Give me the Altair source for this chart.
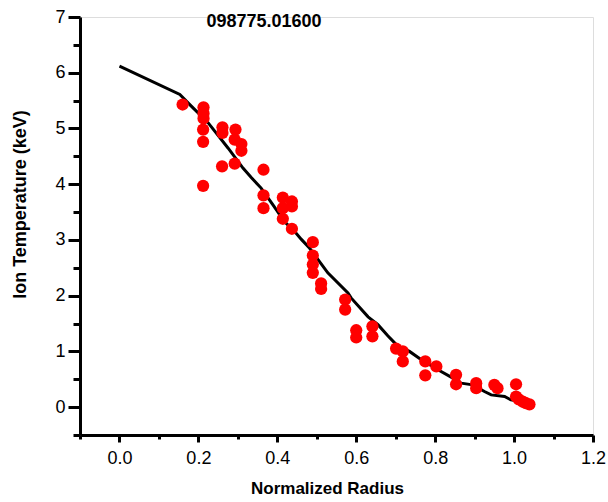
import altair as alt
import pandas as pd

TITLE = "098775.01600"

pt_x = [0.160, 0.213, 0.213, 0.213, 0.212, 0.212, 0.212, 0.261, 0.261, 0.294,
        0.292, 0.309, 0.309, 0.260, 0.292, 0.365, 0.365, 0.365, 0.414, 0.437,
        0.414, 0.437, 0.414, 0.437, 0.490, 0.490, 0.490, 0.490, 0.511, 0.511,
        0.572, 0.572, 0.600, 0.600, 0.641, 0.641, 0.701, 0.718, 0.718, 0.775,
        0.775, 0.803, 0.853, 0.853, 0.904, 0.904, 0.950, 0.958, 1.005, 1.005,
        1.012, 1.022, 1.030, 1.039]
pt_y = [5.43, 5.38, 5.27, 5.18, 4.98, 4.76, 3.97, 5.02, 4.92, 4.98,
        4.80, 4.72, 4.60, 4.32, 4.37, 4.26, 3.80, 3.57, 3.76, 3.69,
        3.57, 3.60, 3.38, 3.20, 2.96, 2.72, 2.56, 2.41, 2.22, 2.12,
        1.93, 1.75, 1.38, 1.25, 1.45, 1.27, 1.05, 1.00, 0.82, 0.82,
        0.57, 0.73, 0.58, 0.41, 0.43, 0.34, 0.40, 0.34, 0.41, 0.19,
        0.14, 0.10, 0.07, 0.05]

fit_x = [0.0, 0.153, 0.182, 0.225, 0.275, 0.313, 0.334, 0.359, 0.389, 0.418,
         0.444, 0.461, 0.482, 0.528, 0.579, 0.587, 0.630, 0.655, 0.680, 0.706,
         0.735, 0.765, 0.815, 0.845, 0.866, 0.895, 0.925, 0.942, 0.976, 0.992,
         1.018]
fit_y = [6.12, 5.61, 5.40, 5.10, 4.65, 4.29, 4.12, 3.93, 3.63, 3.33,
         3.15, 3.01, 2.85, 2.41, 2.05, 1.96, 1.62, 1.48, 1.28, 1.09,
         1.00, 0.85, 0.64, 0.52, 0.43, 0.40, 0.28, 0.22, 0.19, 0.13,
         0.10]

x_ticks = [round(-0.1 + 0.1 * i, 1) for i in range(14)]
y_ticks = [round(-0.5 + 0.5 * i, 1) for i in range(16)]

FONT = "Liberation Sans"

pts = pd.DataFrame({"r": pt_x, "t": pt_y})
fit = pd.DataFrame({"r": fit_x, "t": fit_y})

xscale = alt.Scale(domain=[-0.1, 1.2], nice=False, zero=False)
yscale = alt.Scale(domain=[-0.5, 7], nice=False, zero=False)

xaxis = alt.Axis(
    title="Normalized Radius", values=x_ticks, tickCount=100, grid=False,
    labelExpr="abs(round(datum.value*10)) % 2 == 0 && datum.value > -0.05 ? format(datum.value, '.1f') : ''",
    tickSize={"condition": {"test": "abs(round(datum.value*10)) % 2 == 0", "value": 7}, "value": 4},
    labelOverlap=False, labelFlush=False,
    tickWidth=3, tickColor="black", domainWidth=3, domainColor="black",
    labelFont=FONT, labelFontSize=18, labelColor="black", labelPadding=7,
    titleFont=FONT, titleFontSize=17, titleFontWeight="bold", titleColor="black",
    titleX=247, titleY=53, titleBaseline="middle", titleAnchor="middle", titleAlign="center",
)
yaxis = alt.Axis(
    title="Ion Temperature (keV)", values=y_ticks, tickCount=100, grid=False,
    labelExpr="abs(round(datum.value*2)) % 2 == 0 ? format(datum.value, 'd') : ''",
    tickSize={"condition": {"test": "abs(round(datum.value*2)) % 2 == 0", "value": 12}, "value": 7},
    labelOverlap=False, labelFlush=False,
    tickWidth=3, tickColor="black", domainWidth=3, domainColor="black",
    labelFont=FONT, labelFontSize=18, labelColor="black", labelPadding=3,
    titleFont=FONT, titleFontSize=18, titleFontWeight="bold", titleColor="black",
    titleX=-60, titleY=187, titleAngle=-90, titleBaseline="middle", titleAlign="center",
)

line = alt.Chart(fit).mark_line(color="black", strokeWidth=3).encode(
    x=alt.X("r:Q", scale=xscale, axis=xaxis),
    y=alt.Y("t:Q", scale=yscale, axis=yaxis),
)
dots = alt.Chart(pts).mark_point(filled=True, shape="circle", size=150, color="#ff0000", opacity=1).encode(
    x=alt.X("r:Q", scale=xscale),
    y=alt.Y("t:Q", scale=yscale),
)
label = alt.Chart(pd.DataFrame({"txt": [TITLE]})).mark_text(
    font=FONT, fontSize=18, fontWeight="bold", color="black", align="center", baseline="middle"
).encode(x=alt.value(184), y=alt.value(5), text="txt:N")

chart = alt.layer(line, dots, label).properties(
    width=513, height=418,
    autosize=alt.AutoSizeParams(type="none"),
    padding={"left": 80, "top": 17, "right": 15, "bottom": 67},
).configure_view(stroke=None).configure(background="white")

chart.save("out.html", embed_options={"renderer": "svg", "actions": False})
